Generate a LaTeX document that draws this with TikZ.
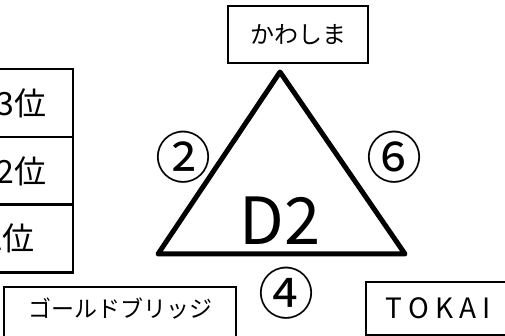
\documentclass[tikz,border=0pt]{standalone}
\usepackage{fontspec}
\setmainfont{Noto Sans CJK JP}
\usetikzlibrary{positioning}

\begin{document}
\begin{tikzpicture}[x=1pt,y=-1pt,
  namebox/.style={draw,line width=1.5pt,inner sep=0pt},
  rankbox/.style={draw,line width=2.5pt,minimum height=68pt,text width=80pt,inner xsep=27pt,inner ysep=0pt,align=right,font=\fontsize{32}{36}\selectfont},
  seed/.style={inner sep=0pt,font=\fontsize{56}{60}\selectfont}]
\useasboundingbox (0,0) rectangle (505,336);

\node[namebox,minimum width=140pt,minimum height=57pt,font=\fontsize{24}{28}\selectfont] (kawashima) at (298,34.5) {かわしま};
\node[namebox,line width=2pt,anchor=base,minimum width=232pt,text height=25pt,text depth=45pt,inner ysep=5pt,font=\fontsize{23}{27}\selectfont] (gold) at (120,317) {ゴールドブリッジ};
\node[namebox,minimum width=144pt,minimum height=53pt,font=\fontsize{28}{32}\selectfont] (tokai) at (438,308.5) {T\hspace{6pt}O\hspace{6pt}K\hspace{6pt}A\hspace{6pt}I};

\node[rankbox] (rank3) at (6,103) {3位};
\node[rankbox] (rank2) at (6,171) {2位};
\node[rankbox,text width=58pt,inner xsep=38pt] (rank1) at (6,238.5) {1位};

\coordinate (top) at (280,72);
\coordinate (left) at (158,254);
\coordinate (right) at (405,254);
\draw[line width=5pt,line join=round] (top) -- (left) -- (right) -- cycle;

\node[inner sep=0pt,font=\fontsize{65}{70}\selectfont] (div) at (280,221) {D2};
\node[seed] (seed2) at (183,157) {②};
\node[seed] (seed6) at (394,157) {⑥};
\node[seed] (seed4) at (286,293) {④};

\end{tikzpicture}
\end{document}
